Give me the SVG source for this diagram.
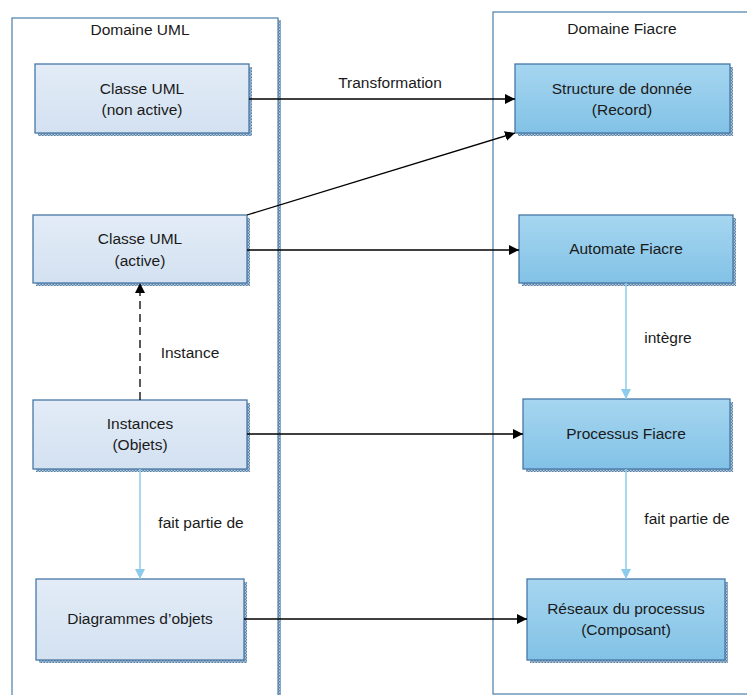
<svg xmlns="http://www.w3.org/2000/svg" width="747" height="695" viewBox="0 0 747 695">
<defs>
<linearGradient id="gLight" x1="0" y1="0" x2="0" y2="1"><stop offset="0" stop-color="#e3ecf7"/><stop offset="1" stop-color="#d3e1f1"/></linearGradient>
<linearGradient id="gDark" x1="0" y1="0" x2="0" y2="1"><stop offset="0" stop-color="#a6d6f0"/><stop offset="1" stop-color="#82c2e6"/></linearGradient>
<pattern id="dots" width="3" height="3" patternUnits="userSpaceOnUse"><rect width="3" height="3" fill="#b9cadb"/><rect width="1.5" height="1.5" fill="#5a83a8"/><rect x="1.5" y="1.5" width="1.5" height="1.5" fill="#5a83a8"/></pattern>
<marker id="ab" viewBox="0 0 10 10" refX="10" refY="5" markerWidth="10" markerHeight="10" markerUnits="userSpaceOnUse" orient="auto"><path d="M0,0 L10,5 L0,10 Z" fill="#000"/></marker>
<marker id="al" viewBox="0 0 10 10" refX="10" refY="5" markerWidth="10" markerHeight="10" markerUnits="userSpaceOnUse" orient="auto"><path d="M0,0 L10,5 L0,10 Z" fill="#8ccbec"/></marker>
</defs>
<style>
text{font-family:"Liberation Sans","Open Sans",sans-serif;font-size:15.5px;fill:#1a1a1a;text-anchor:middle}
.box{stroke:#4677a6;stroke-width:1.3}
.light{fill:url(#gLight)}
.dark{fill:url(#gDark)}
.sh{fill:url(#dots)}
.cont{fill:none;stroke:#4a7eab;stroke-width:1.2}
.blk{stroke:#000;stroke-width:1.3;fill:none;marker-end:url(#ab)}
.lb{stroke:#8ccbec;stroke-width:1.5;fill:none;marker-end:url(#al)}
</style>
<rect width="747" height="695" fill="#fff"/>
<g id="domaine-uml">
<rect x="278" y="20" width="3" height="680" class="sh"/>
<rect x="12" y="18" width="266" height="690" class="cont"/>
<text x="140" y="35">Domaine UML</text>
</g>
<g id="domaine-fiacre">
<rect x="493" y="12" width="270" height="682" class="cont"/>
<text x="622" y="34">Domaine Fiacre</text>
</g>
<g id="classe-non-active">
<rect x="38" y="67" width="214" height="69" class="sh"/>
<rect x="35" y="64" width="214" height="69" class="box light"/>
<text x="142" y="94">Classe UML</text><text x="142" y="115">(non active)</text>
</g>
<g id="structure">
<rect x="518" y="67" width="215" height="69" class="sh"/>
<rect x="515" y="64" width="215" height="69" class="box dark"/>
<text x="622" y="94">Structure de donnée</text><text x="622" y="115">(Record)</text>
</g>
<g id="classe-active">
<rect x="36" y="218" width="214" height="68" class="sh"/>
<rect x="33" y="215" width="214" height="68" class="box light"/>
<text x="140" y="244">Classe UML</text><text x="140" y="266">(active)</text>
</g>
<g id="automate">
<rect x="522" y="218" width="214" height="68" class="sh"/>
<rect x="519" y="215" width="214" height="68" class="box dark"/>
<text x="626" y="254">Automate Fiacre</text>
</g>
<g id="instances">
<rect x="36" y="403" width="214" height="69" class="sh"/>
<rect x="33" y="400" width="214" height="69" class="box light"/>
<text x="140" y="429">Instances</text><text x="140" y="450">(Objets)</text>
</g>
<g id="processus">
<rect x="526" y="402" width="207" height="70" class="sh"/>
<rect x="523" y="399" width="207" height="70" class="box dark"/>
<text x="626" y="439">Processus Fiacre</text>
</g>
<g id="diagrammes">
<rect x="39" y="582" width="208" height="81" class="sh"/>
<rect x="36" y="579" width="208" height="81" class="box light"/>
<text x="140" y="624">Diagrammes d’objets</text>
</g>
<g id="reseaux">
<rect x="530" y="582" width="198" height="81" class="sh"/>
<rect x="527" y="579" width="198" height="81" class="box dark"/>
<text x="626" y="614">Réseaux du processus</text><text x="626" y="635">(Composant)</text>
</g>
<g id="connectors">
<line x1="249" y1="99" x2="515" y2="99" class="blk"/>
<text x="390" y="88">Transformation</text>
<line x1="247" y1="215" x2="515" y2="133" class="blk"/>
<line x1="247" y1="250" x2="519" y2="250" class="blk"/>
<line x1="140" y1="400" x2="140" y2="283" class="blk" stroke-dasharray="8,5"/>
<text x="190" y="358">Instance</text>
<line x1="247" y1="434" x2="523" y2="434" class="blk"/>
<line x1="140" y1="469" x2="140" y2="579" class="lb"/>
<text x="201" y="528">fait partie de</text>
<line x1="244" y1="619" x2="527" y2="619" class="blk"/>
<line x1="626" y1="283" x2="626" y2="399" class="lb"/>
<text x="668" y="343">intègre</text>
<line x1="626" y1="469" x2="626" y2="579" class="lb"/>
<text x="687" y="524">fait partie de</text>
</g>
</svg>
